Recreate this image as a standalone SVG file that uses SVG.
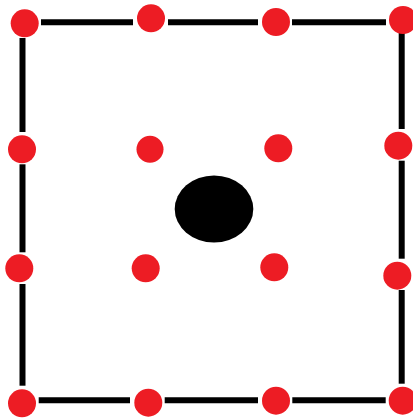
<svg xmlns="http://www.w3.org/2000/svg" width="413" height="419" viewBox="0 0 413 419">
<style>
.dot{fill:#ED1C24}
.ln{stroke:#000;stroke-width:6;fill:none}
</style>
<rect width="413" height="419" fill="#fff"/>
<g id="connectors">
<line class="ln" x1="41" y1="22.3" x2="133" y2="22.3"/>
<line class="ln" x1="168" y1="22.3" x2="258" y2="22.3"/>
<line class="ln" x1="292" y1="22.3" x2="386" y2="22.3"/>
<line class="ln" x1="38.7" y1="400.3" x2="130" y2="400.3"/>
<line class="ln" x1="164.7" y1="400.3" x2="258" y2="400.3"/>
<line class="ln" x1="292.3" y1="400.3" x2="385.7" y2="400.3"/>
<line class="ln" x1="22.5" y1="38" x2="22.5" y2="132"/>
<line class="ln" x1="22.5" y1="164.3" x2="22.5" y2="252.3"/>
<line class="ln" x1="22.5" y1="284" x2="22.5" y2="385.7"/>
<line class="ln" x1="401.7" y1="33" x2="401.7" y2="129"/>
<line class="ln" x1="401.7" y1="160.7" x2="401.7" y2="258.7"/>
<line class="ln" x1="401.7" y1="290" x2="401.7" y2="383.7"/>
</g>
<g id="n1"><circle class="dot" cx="24.7" cy="23.3" r="14"/></g>
<g id="n2"><circle class="dot" cx="151" cy="18.3" r="14"/></g>
<g id="n3"><circle class="dot" cx="276" cy="22" r="14"/></g>
<g id="n4"><circle class="dot" cx="403" cy="20" r="14"/></g>
<g id="n5"><circle class="dot" cx="22" cy="149.3" r="14"/></g>
<g id="n6"><circle class="dot" cx="150" cy="149.3" r="13.5"/></g>
<g id="n7"><circle class="dot" cx="278.3" cy="148.3" r="14"/></g>
<g id="n8"><circle class="dot" cx="398.3" cy="145.7" r="14"/></g>
<g id="center"><ellipse cx="214" cy="209" rx="39.3" ry="33.5" fill="#000"/></g>
<g id="n9"><circle class="dot" cx="19.3" cy="268.3" r="14"/></g>
<g id="n10"><circle class="dot" cx="145.7" cy="268.3" r="14"/></g>
<g id="n11"><circle class="dot" cx="274.3" cy="267.3" r="14"/></g>
<g id="n12"><circle class="dot" cx="397.3" cy="275.7" r="14"/></g>
<g id="n13"><circle class="dot" cx="22" cy="403.3" r="14"/></g>
<g id="n14"><circle class="dot" cx="148.3" cy="402.7" r="14"/></g>
<g id="n15"><circle class="dot" cx="276" cy="400.7" r="14"/></g>
<g id="n16"><circle class="dot" cx="402.7" cy="400.7" r="14"/></g>
</svg>
